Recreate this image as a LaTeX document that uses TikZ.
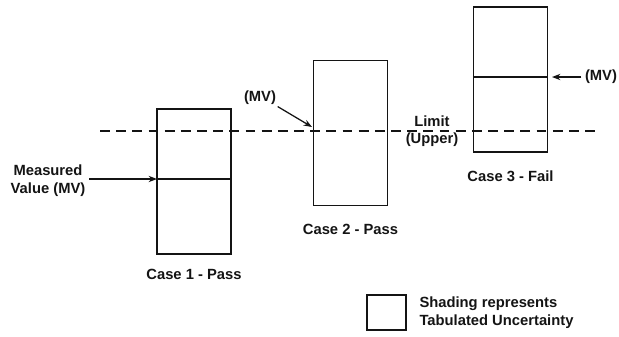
\documentclass[tikz,border=0pt]{standalone}
\usepackage{fontspec}
\setmainfont{Liberation Sans}
\usepackage{tikz}
\usetikzlibrary{arrows.meta, positioning, calc}
\definecolor{mydark}{RGB}{20,20,20}
\tikzset{
  casebox/.style={rectangle, draw=mydark, minimum width=1.85cm,
    minimum height=3.625cm, line width=0.8pt, inner sep=0pt},
  keybox/.style={rectangle, draw=mydark, minimum width=0.975cm,
    minimum height=0.875cm, line width=0.8pt, inner sep=0pt},
  lbl/.style={font=\fontsize{10.5}{12.5}\selectfont\bfseries, color=mydark,
    align=center, inner sep=1pt},
  keylbl/.style={font=\fontsize{10.5}{13}\selectfont\bfseries, color=mydark,
    align=left, inner sep=1pt},
  arrow/.style={-{Stealth[length=6pt, width=4.5pt]}, line width=0.9pt, color=mydark},
  line/.style={line width=0.8pt, color=mydark},
  limline/.style={line width=0.8pt, color=mydark, dash pattern=on 7pt off 4.5pt}
}
\begin{document}
\begin{tikzpicture}[x=0.025cm, y=-0.025cm]
  \useasboundingbox (0,0) rectangle (619,336);
  % Limit
  \coordinate (lim-a) at (100,131);
  \coordinate (lim-b) at (597,131);
  \draw[limline] (lim-a) -- (lim-b);
  \node[lbl] (limit) at (432,131) {Limit\\(Upper)};
  % Boxes
  \node[casebox] (c1) at (194,181.5) {};
  \node[casebox] (c2) at (350.5,133) {};
  \node[casebox] (c3) at (510.5,79.5) {};
  % Measured values
  \coordinate (mv1) at (157,179);
  \coordinate (mv3) at (548,77);
  \draw[line] (c1.west |- mv1) -- (c1.east |- mv1);
  \draw[line] (c3.west |- mv3) -- (c3.east |- mv3);
  % Case 1
  \node[lbl] (mvtext) at (48,180.5) {Measured\\Value (MV)};
  \node[lbl, below=9pt of c1] (case1) {Case 1 - Pass};
  \draw[arrow] (mvtext.east |- mv1) ++(2,0) -- (mv1);
  % Case 2
  \node[lbl] (mv2text) at (260,98) {(MV)};
  \coordinate (mv2) at (312,127);
  \draw[arrow] (mv2text.south east) -- (mv2);
  \node[lbl, below=12pt of c2] (case2) {Case 2 - Pass};
  % Case 3
  \node[lbl] (mv3text) at (601,77) {(MV)};
  \draw[arrow] (mv3text.west) ++(-2,0) -- ($(mv3)+(4,0)$);
  \node[lbl, below=12pt of c3] (case3) {Case 3 - Fail};
  % Key
  \node[keybox] (key) at (386.5,312.5) {};
  \node[keylbl, right=8pt of key] (keytext) {Shading represents\\Tabulated Uncertainty};
\end{tikzpicture}
\end{document}
